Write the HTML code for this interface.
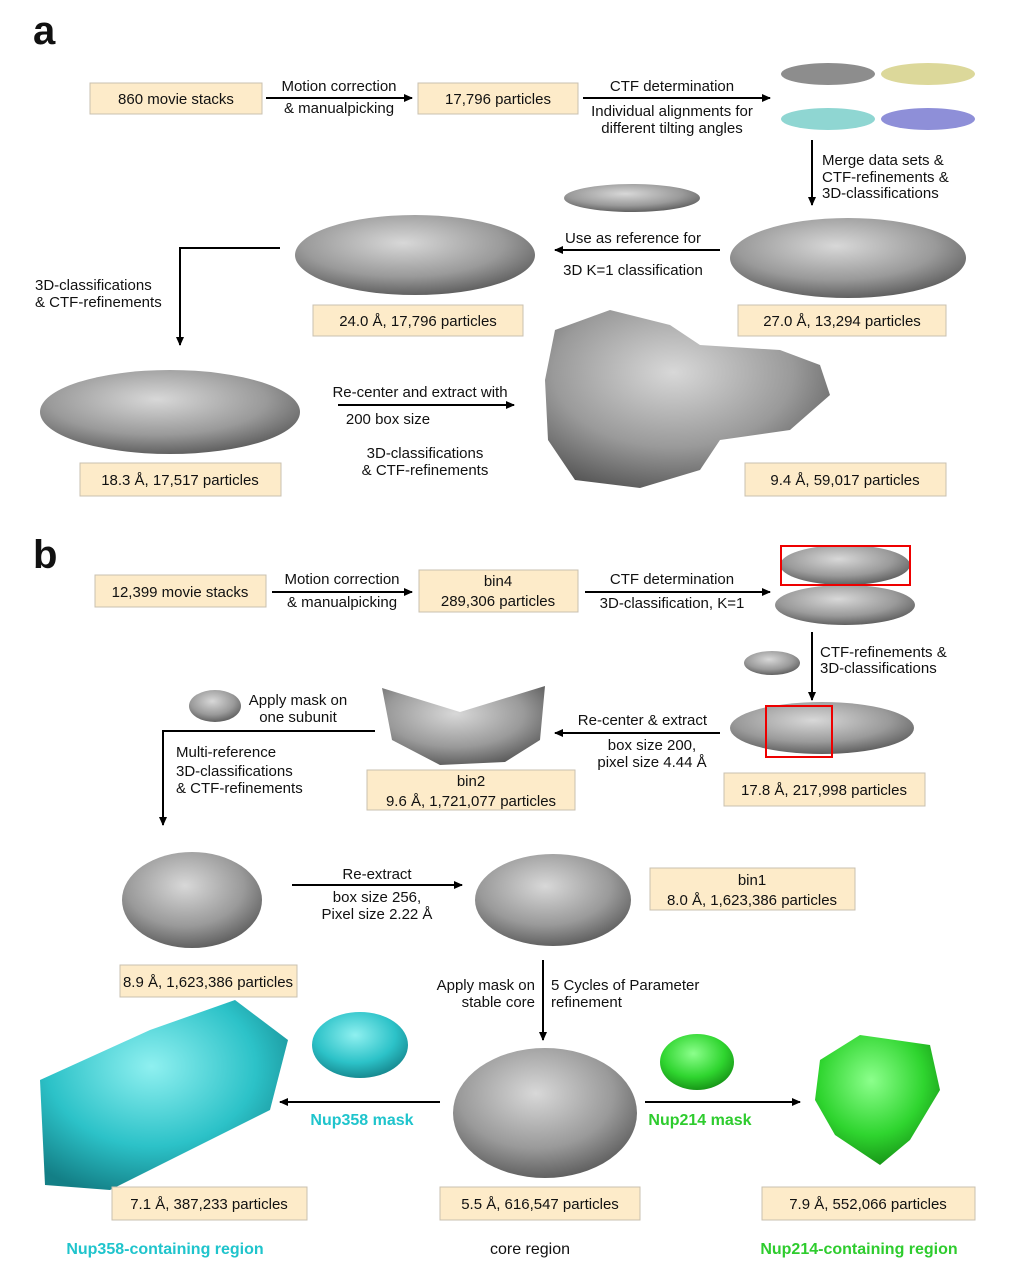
<!DOCTYPE html>
<html><head><meta charset="utf-8"><style>
html,body{margin:0;padding:0;background:#fff}
svg{display:block}
text{font-family:"Liberation Sans",Arial,sans-serif;font-size:15px;fill:#111}
.bx{fill:#fdebc9;stroke:#c9c0b0;stroke-width:1}
.ln{stroke:#000;stroke-width:2;fill:none}
.c{text-anchor:middle}
.r{text-anchor:end}
.g{fill:url(#gg)}
</style></head><body>
<svg width="1010" height="1288" viewBox="0 0 1010 1288" xmlns="http://www.w3.org/2000/svg">
<defs>
<marker id="ar" markerWidth="10" markerHeight="10" refX="8" refY="5" orient="auto" markerUnits="userSpaceOnUse"><path d="M0,1 L9,5 L0,9 z" fill="#000"/></marker>
<radialGradient id="gg" cx="45%" cy="35%" r="70%"><stop offset="0" stop-color="#d8d8d8"/><stop offset="0.6" stop-color="#9a9a9a"/><stop offset="1" stop-color="#555"/></radialGradient>
<radialGradient id="cy" cx="45%" cy="35%" r="70%"><stop offset="0" stop-color="#8ff0f0"/><stop offset="0.6" stop-color="#2cc2c8"/><stop offset="1" stop-color="#137f86"/></radialGradient>
<radialGradient id="gr" cx="45%" cy="35%" r="70%"><stop offset="0" stop-color="#8cff8c"/><stop offset="0.6" stop-color="#2fd52f"/><stop offset="1" stop-color="#138a13"/></radialGradient>
</defs>

<!-- Panel a -->
<text x="33" y="44" style="font-size:40px;font-weight:bold">a</text>
<rect class="bx" x="90" y="83" width="172" height="31"/><text class="c" x="176" y="104">860 movie stacks</text>
<line class="ln" x1="266" y1="98" x2="412" y2="98" marker-end="url(#ar)"/>
<text class="c" x="339" y="91">Motion correction</text><text class="c" x="339" y="113">&amp; manualpicking</text>
<rect class="bx" x="418" y="83" width="160" height="31"/><text class="c" x="498" y="104">17,796 particles</text>
<line class="ln" x1="583" y1="98" x2="770" y2="98" marker-end="url(#ar)"/>
<text class="c" x="672" y="91">CTF determination</text><text class="c" x="672" y="116">Individual alignments for</text><text class="c" x="672" y="133">different tilting angles</text>
<ellipse cx="828" cy="74" rx="47" ry="11" fill="#8d8d8d"/><ellipse cx="928" cy="74" rx="47" ry="11" fill="#dcd89a"/>
<ellipse cx="828" cy="119" rx="47" ry="11" fill="#8fd6d2"/><ellipse cx="928" cy="119" rx="47" ry="11" fill="#8e8fd8"/>
<line class="ln" x1="812" y1="140" x2="812" y2="205" marker-end="url(#ar)"/>
<text x="822" y="165">Merge data sets &amp;</text><text x="822" y="182">CTF-refinements &amp;</text><text x="822" y="198">3D-classifications</text>
<ellipse class="g" cx="632" cy="198" rx="68" ry="14"/>
<line class="ln" x1="720" y1="250" x2="555" y2="250" marker-end="url(#ar)"/>
<text class="c" x="633" y="243">Use as reference for</text><text class="c" x="633" y="275">3D K=1 classification</text>
<ellipse class="g" cx="848" cy="258" rx="118" ry="40"/>
<rect class="bx" x="738" y="305" width="208" height="31"/><text class="c" x="842" y="326">27.0 Å, 13,294 particles</text>
<ellipse class="g" cx="415" cy="255" rx="120" ry="40"/>
<rect class="bx" x="313" y="305" width="210" height="31"/><text class="c" x="418" y="326">24.0 Å, 17,796 particles</text>
<polyline class="ln" points="280,248 180,248 180,345" marker-end="url(#ar)"/>
<text x="35" y="290">3D-classifications</text><text x="35" y="307">&amp; CTF-refinements</text>
<ellipse class="g" cx="170" cy="412" rx="130" ry="42"/>
<rect class="bx" x="80" y="463" width="201" height="33"/><text class="c" x="180" y="485">18.3 Å, 17,517 particles</text>
<line class="ln" x1="338" y1="405" x2="514" y2="405" marker-end="url(#ar)"/>
<text class="c" x="420" y="397">Re-center and extract with</text><text class="c" x="388" y="424">200 box size</text>
<text class="c" x="425" y="458">3D-classifications</text><text class="c" x="425" y="475">&amp; CTF-refinements</text>
<path d="M555,330 L610,310 L670,325 L700,345 L780,350 L820,365 L830,395 L790,430 L720,440 L700,470 L640,488 L575,480 L548,440 L545,380 Z" fill="url(#gg)"/>
<rect class="bx" x="745" y="463" width="201" height="33"/><text class="c" x="845" y="485">9.4 Å, 59,017 particles</text>

<!-- Panel b -->
<text x="33" y="568" style="font-size:40px;font-weight:bold">b</text>
<rect class="bx" x="95" y="575" width="171" height="32"/><text class="c" x="180" y="597">12,399 movie stacks</text>
<line class="ln" x1="272" y1="592" x2="412" y2="592" marker-end="url(#ar)"/>
<text class="c" x="342" y="584">Motion correction</text><text class="c" x="342" y="607">&amp; manualpicking</text>
<rect class="bx" x="419" y="570" width="159" height="42"/><text class="c" x="498" y="586">bin4</text><text class="c" x="498" y="606">289,306 particles</text>
<line class="ln" x1="585" y1="592" x2="770" y2="592" marker-end="url(#ar)"/>
<text class="c" x="672" y="584">CTF determination</text><text class="c" x="672" y="608">3D-classification, K=1</text>
<ellipse class="g" cx="845" cy="565" rx="65" ry="20"/><ellipse class="g" cx="845" cy="605" rx="70" ry="20"/>
<rect x="781" y="546" width="129" height="39" fill="none" stroke="#e00" stroke-width="2"/>
<line class="ln" x1="812" y1="632" x2="812" y2="700" marker-end="url(#ar)"/>
<text x="820" y="657">CTF-refinements &amp;</text><text x="820" y="673">3D-classifications</text>
<ellipse class="g" cx="772" cy="663" rx="28" ry="12"/>
<ellipse class="g" cx="822" cy="728" rx="92" ry="26"/>
<rect x="766" y="706" width="66" height="51" fill="none" stroke="#e00" stroke-width="2"/>
<rect class="bx" x="724" y="773" width="201" height="33"/><text class="c" x="824" y="795">17.8 Å, 217,998 particles</text>
<line class="ln" x1="720" y1="733" x2="555" y2="733" marker-end="url(#ar)"/>
<text class="r" x="707" y="725">Re-center &amp; extract</text><text class="c" x="652" y="750">box size 200,</text><text class="c" x="652" y="767">pixel size 4.44 Å</text>
<path d="M382,688 L460,712 L545,686 L540,740 L505,762 L440,765 L392,740 Z" fill="url(#gg)"/>
<rect class="bx" x="367" y="770" width="208" height="40"/><text class="c" x="471" y="786">bin2</text><text class="c" x="471" y="806">9.6 Å, 1,721,077 particles</text>
<ellipse class="g" cx="215" cy="706" rx="26" ry="16"/>
<text class="c" x="298" y="705">Apply mask on</text><text class="c" x="298" y="722">one subunit</text>
<polyline class="ln" points="375,731 163,731 163,825" marker-end="url(#ar)"/>
<text x="176" y="757">Multi-reference</text><text x="176" y="776">3D-classifications</text><text x="176" y="793">&amp; CTF-refinements</text>
<ellipse class="g" cx="192" cy="900" rx="70" ry="48"/>
<rect class="bx" x="120" y="965" width="177" height="32"/><text class="c" x="208" y="987">8.9 Å, 1,623,386 particles</text>
<line class="ln" x1="292" y1="885" x2="462" y2="885" marker-end="url(#ar)"/>
<text class="c" x="377" y="879">Re-extract</text><text class="c" x="377" y="902">box size 256,</text><text class="c" x="377" y="919">Pixel size 2.22 Å</text>
<ellipse class="g" cx="553" cy="900" rx="78" ry="46"/>
<rect class="bx" x="650" y="868" width="205" height="42"/><text class="c" x="752" y="885">bin1</text><text class="c" x="752" y="905">8.0 Å, 1,623,386 particles</text>
<line class="ln" x1="543" y1="960" x2="543" y2="1040" marker-end="url(#ar)"/>
<text class="r" x="535" y="990">Apply mask on</text><text class="r" x="535" y="1007">stable core</text>
<text x="551" y="990">5 Cycles of Parameter</text><text x="551" y="1007">refinement</text>
<ellipse class="g" cx="545" cy="1113" rx="92" ry="65"/>
<rect class="bx" x="440" y="1187" width="200" height="33"/><text class="c" x="540" y="1209">5.5 Å, 616,547 particles</text>
<path d="M40,1080 L150,1030 L235,1000 L288,1040 L270,1110 L190,1150 L110,1190 L45,1185 Z" fill="url(#cy)"/>
<rect class="bx" x="112" y="1187" width="195" height="33"/><text class="c" x="209" y="1209">7.1 Å, 387,233 particles</text>
<ellipse cx="360" cy="1045" rx="48" ry="33" fill="url(#cy)"/>
<text class="c" x="362" y="1125" style="fill:#1fc4cc;font-weight:bold;font-size:16px">Nup358 mask</text>
<line class="ln" x1="440" y1="1102" x2="280" y2="1102" marker-end="url(#ar)"/>
<ellipse cx="697" cy="1062" rx="37" ry="28" fill="url(#gr)"/>
<text class="c" x="700" y="1125" style="fill:#2ecc2e;font-weight:bold;font-size:16px">Nup214 mask</text>
<line class="ln" x1="645" y1="1102" x2="800" y2="1102" marker-end="url(#ar)"/>
<path d="M820,1060 L860,1035 L930,1045 L940,1090 L910,1140 L880,1165 L835,1135 L815,1100 Z" fill="url(#gr)"/>
<rect class="bx" x="762" y="1187" width="213" height="33"/><text class="c" x="868" y="1209">7.9 Å, 552,066 particles</text>
<text class="c" x="165" y="1254" style="fill:#1fc4cc;font-weight:bold;font-size:16px">Nup358-containing region</text>
<text class="c" x="530" y="1254" style="font-size:16px">core region</text>
<text class="c" x="859" y="1254" style="fill:#2ecc2e;font-weight:bold;font-size:16px">Nup214-containing region</text>
</svg>
</body></html>
